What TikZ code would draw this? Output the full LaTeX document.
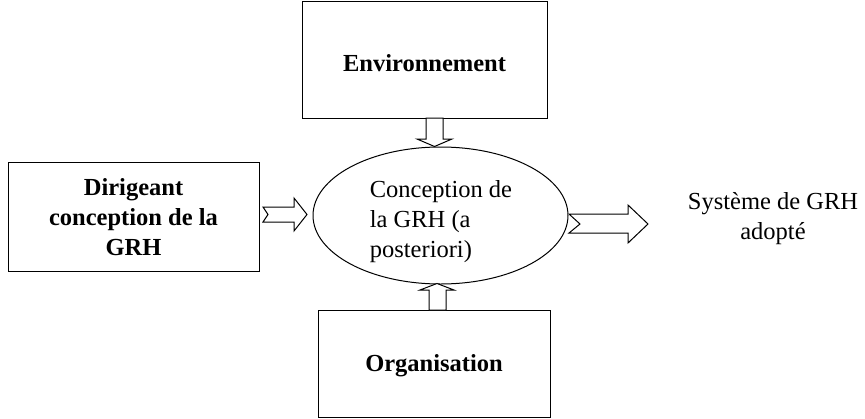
\documentclass[tikz,border=0pt]{standalone}
\usepackage{fontspec}
\setmainfont{Liberation Serif}
\begin{document}
\begin{tikzpicture}[x=1pt,y=-1pt,
  boxstyle/.style={draw,line width=1pt},
  lbl/.style={font=\fontsize{24.5}{30}\selectfont,align=center,inner sep=0pt},
  blbl/.style={lbl,font=\fontsize{24.5}{30}\selectfont\bfseries},
  blk/.style={draw,line width=1pt,fill=white,line join=miter}]
\useasboundingbox (0,0) rectangle (865,418);
% boxes
\draw[boxstyle] (302,1) rectangle (547,118);
\node[blbl] (env) at (424.5,63) {Environnement};
\draw[boxstyle] (8,162) rectangle (259,271);
\node[blbl] (dir) at (133.5,217) {Dirigeant\\conception de la\\GRH};
\draw[boxstyle] (318,310) rectangle (550,417);
\node[blbl] (org) at (434,366) {Organisation};
% ellipse
\draw[line width=1pt] (440.5,215.5) ellipse [x radius=127.5, y radius=68.5];
\node[lbl,align=left] (conc) at (441,222) {Conception de\\la GRH (a\\posteriori)};
\node[lbl] (sys) at (773,219) {Système de GRH\\adopté};
% block arrows
\draw[blk] (426,118) -- (426,139) -- (417,139) -- (434.5,146.5) -- (452,139) -- (443,139) -- (443,118) -- cycle;
\draw[blk] (429,310) -- (429,290) -- (420,290) -- (437,283.5) -- (454,290) -- (446,290) -- (446,310) -- cycle;
\draw[blk] (263,207) -- (294,207) -- (294,198) -- (307,214.5) -- (294,231) -- (294,222) -- (263,222) -- (268,214.5) -- cycle;
\draw[blk] (569,214) -- (628,214) -- (628,205) -- (648,224) -- (628,243) -- (628,233) -- (569,233) -- (580,224) -- cycle;
\end{tikzpicture}
\end{document}
